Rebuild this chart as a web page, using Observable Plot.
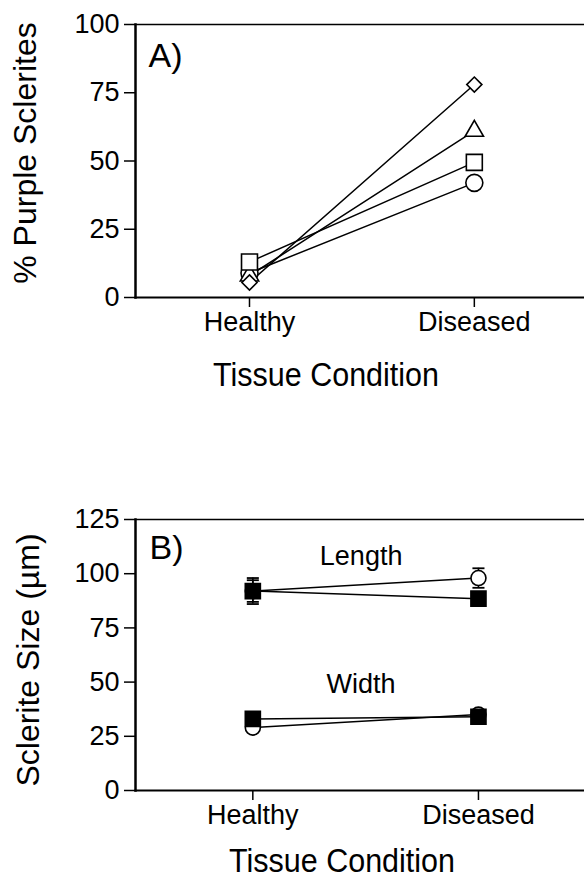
<!DOCTYPE html>
<html><head><meta charset="utf-8">
<script src="https://cdn.jsdelivr.net/npm/d3@7"></script>
<script src="https://cdn.jsdelivr.net/npm/@observablehq/plot@0.6"></script>
<style>
body{margin:0;background:#fff;}
#chart{width:584px;height:880px;overflow:hidden;}
svg{display:block;}
</style></head><body><div id="chart"></div>
<script>
// Shared categories
const conditions = ["Healthy", "Diseased"];
const conditionIndex = [0, 1];

// Panel A: % purple sclerites (four series, open symbols)
const circleA = [9, 42];
const squareA = [13, 49.5];
const triangleA = [8, 61];
const diamondA = [5.5, 78];
const ticksA = [0, 25, 50, 75, 100];

// Panel B: sclerite size (µm), mean and error
const lengthCircle = [92, 98];
const lengthCircleErr = [6, 4.5];
const lengthSquare = [92, 88.5];
const lengthSquareErr = [5, 1.5];
const widthCircle = [29, 35];
const widthCircleErr = [1.5, 1.5];
const widthSquare = [33, 34];
const widthSquareErr = [1.5, 1.5];
const ticksB = [0, 25, 50, 75, 100, 125];
const panelLabels = ["A)", "B)"];
const seriesLabels = ["Length", "Width"];
const seriesLabelY = [108, 49];
const seriesLabelX = 0.48;
const xTitle = "Tissue Condition";
const yTitleA = "% Purple Sclerites";
const yTitleB = "Sclerite Size (µm)";

const FONT = "'Liberation Sans', Arial, Helvetica, sans-serif";
const rows = (vals, errs) => conditionIndex.map((i) => ({x: i, y: vals[i], e: errs ? errs[i] : 0}));
const capSymbol = {draw(ctx, size) { const w = Math.sqrt(size); ctx.moveTo(-w / 2, 0); ctx.lineTo(w / 2, 0); }};

function baseAxes(ticks) {
  return [
    Plot.frame({anchor: "top", strokeWidth: 1.5}),
    Plot.frame({anchor: "left", strokeWidth: 2.5}),
    Plot.frame({anchor: "bottom", strokeWidth: 2}),
    Plot.axisY({ticks, tickSize: 11, tickPadding: 5, strokeWidth: 1.5, label: null}),
    Plot.axisX({ticks: conditionIndex, tickFormat: (d) => conditions[d], tickSize: 10, tickPadding: 4, strokeWidth: 1.5, label: null}),
  ];
}

// ---------- Panel A ----------
const seriesA = [
  {vals: circleA, symbol: "circle", r: 8.5},
  {vals: triangleA, symbol: "triangle", r: 6.8},
  {vals: squareA, symbol: "square", r: 9},
  {vals: diamondA, symbol: "diamond2", r: 6.8},
];
const marksA = [...baseAxes(ticksA)];
for (const s of seriesA) marksA.push(Plot.line(rows(s.vals), {x: "x", y: "y", stroke: "black", strokeWidth: 1.5}));
for (const s of seriesA) marksA.push(Plot.dot(rows(s.vals), {x: "x", y: "y", symbol: s.symbol, r: s.r, fill: "white", stroke: "black", strokeWidth: 1.6}));
marksA.push(
  Plot.text([panelLabels[0]], {frameAnchor: "top-left", text: (d) => d, dx: 13, dy: 32, textAnchor: "start", lineAnchor: "middle", fontSize: 34}),
  Plot.text([yTitleA], {frameAnchor: "left", text: (d) => d, rotate: -90, dx: -110, dy: -8, textAnchor: "middle", lineAnchor: "middle", fontSize: 32}),
  Plot.text([xTitle], {frameAnchor: "bottom", text: (d) => d, dx: -34, dy: 78, lineAnchor: "middle", fontSize: 33})
);
const plotA = Plot.plot({
  width: 584, height: 440,
  marginTop: 24, marginBottom: 143, marginLeft: 135, marginRight: 0,
  style: {fontFamily: FONT, fontSize: "27px", color: "black", background: "white", overflow: "visible"},
  x: {type: "linear", domain: [-0.507, 1.49]},
  y: {domain: [0, 100]},
  marks: marksA
});

// ---------- Panel B ----------
const seriesB = [
  {vals: lengthCircle, errs: lengthCircleErr, symbol: "circle", r: 7.5, fill: "white"},
  {vals: widthCircle, errs: widthCircleErr, symbol: "circle", r: 7.5, fill: "white"},
  {vals: lengthSquare, errs: lengthSquareErr, symbol: "square", r: 8.5, fill: "black"},
  {vals: widthSquare, errs: widthSquareErr, symbol: "square", r: 8.5, fill: "black"},
];
const marksB = [...baseAxes(ticksB)];
for (const s of seriesB) marksB.push(Plot.line(rows(s.vals), {x: "x", y: "y", stroke: "black", strokeWidth: 1.5}));
for (const s of seriesB) {
  const d = rows(s.vals, s.errs);
  marksB.push(
    Plot.ruleX(d, {x: "x", y1: (p) => p.y - p.e, y2: (p) => p.y + p.e, stroke: "black", strokeWidth: 1.6}),
    Plot.dot(d, {x: "x", y: (p) => p.y + p.e, symbol: capSymbol, r: 6.8, stroke: "black", strokeWidth: 1.8}),
    Plot.dot(d, {x: "x", y: (p) => p.y - p.e, symbol: capSymbol, r: 6.8, stroke: "black", strokeWidth: 1.8}),
    Plot.dot(d, {x: "x", y: "y", symbol: s.symbol, r: s.r, fill: s.fill, stroke: "black", strokeWidth: 1.6})
  );
}
marksB.push(
  Plot.text(seriesLabels, {x: () => seriesLabelX, y: (d, i) => seriesLabelY[i], text: (d) => d, lineAnchor: "middle", fontSize: 27}),
  Plot.text([panelLabels[1]], {frameAnchor: "top-left", text: (d) => d, dx: 14, dy: 29, textAnchor: "start", lineAnchor: "middle", fontSize: 34}),
  Plot.text([yTitleB], {frameAnchor: "left", text: (d) => d, rotate: -90, dx: -107, dy: 5, textAnchor: "middle", lineAnchor: "middle", fontSize: 32}),
  Plot.text([xTitle], {frameAnchor: "bottom", text: (d) => d, dx: -18, dy: 71, lineAnchor: "middle", fontSize: 33})
);
const plotB = Plot.plot({
  width: 584, height: 440,
  marginTop: 79, marginBottom: 90, marginLeft: 135, marginRight: 0,
  style: {fontFamily: FONT, fontSize: "27px", color: "black", background: "white", overflow: "visible"},
  x: {type: "linear", domain: [-0.52, 1.47]},
  y: {domain: [0, 125]},
  marks: marksB
});

// The reference's axis title is set in a slightly condensed face
for (const p of [plotA, plotB]) {
  d3.select(p).selectAll("text")
    .filter(function () { return this.textContent === xTitle; })
    .attr("textLength", 226)
    .attr("lengthAdjust", "spacingAndGlyphs");
}

const chart = document.getElementById("chart");
chart.appendChild(plotA);
chart.appendChild(plotB);
</script></body></html>
